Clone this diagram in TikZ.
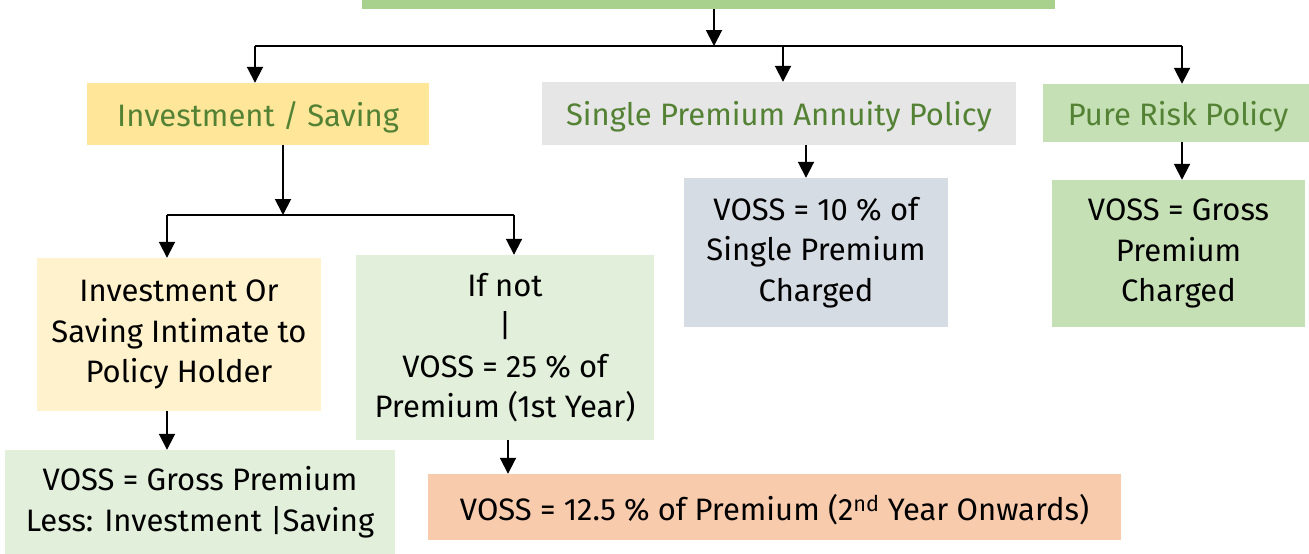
\documentclass[tikz,border=0pt]{standalone}
\usepackage{fontspec}
\setmainfont{Fira Sans}
\usepackage{tikz}
\usetikzlibrary{positioning, arrows.meta}
\definecolor{headGreen}{HTML}{A9D18E}
\definecolor{invYellow}{HTML}{FFE699}
\definecolor{annGrey}{HTML}{E7E6E6}
\definecolor{riskGreen}{HTML}{C5E0B4}
\definecolor{paleYellow}{HTML}{FFF2CC}
\definecolor{paleGreen}{HTML}{E2EFDA}
\definecolor{paleBlue}{HTML}{D6DCE4}
\definecolor{paleOrange}{HTML}{F8CBAD}
\definecolor{labelGreen}{HTML}{548235}

\begin{document}
\begin{tikzpicture}[
  x=1pt, y=-1pt,
  every node/.style={font=\fontsize{31}{40.5}\selectfont},
  box/.style={
    rectangle, inner sep=0pt, align=center,
    text=black
  },
  kind/.style={
    box, text=labelGreen, text depth=0pt
  },
  arr/.style={
    black, line width=1.9pt, -{Triangle[length=16pt,width=16pt]}
  },
  bus/.style={
    black, line width=1.9pt
  },
]
\useasboundingbox (0,0) rectangle (1309,554);
\clip (0,0) rectangle (1309,554);

% Head (cut at the top edge)
\node[box, fill=headGreen, minimum width=693pt, minimum height=49pt] (top) at (708.5,-15.5) {};

% Policy kinds
\node[kind, fill=invYellow, minimum width=342pt, minimum height=62pt] (inv) at (258,114) {Investment / Saving};
\node[kind, fill=annGrey, minimum width=474pt, minimum height=63pt] (spa) at (779,113.5) {Single Premium Annuity Policy};
\node[kind, fill=riskGreen, minimum width=270pt, minimum height=58pt] (prp) at (1178,113) {Pure Risk Policy};

% Second level
\node[box, fill=paleYellow, minimum width=284pt, minimum height=153pt] (intim) at (179,334.5) {Investment Or\\Saving Intimate to\\Policy Holder};
\node[box, fill=paleGreen, minimum width=298pt, minimum height=185pt] (ifnot) at (505,347.5) {If not\\|\\VOSS = 25 \% of\\Premium (1st Year)};
\node[box, fill=paleBlue, minimum width=264pt, minimum height=149pt] (vten) at (816,252.5) {VOSS = 10 \% of\\Single Premium\\Charged};
\node[box, fill=riskGreen, minimum width=253pt, minimum height=147pt] (vgross) at (1178.5,253.5) {VOSS = Gross\\Premium\\Charged};

% Third level
\node[box, fill=paleGreen, minimum width=390pt, minimum height=104pt] (vless) at (200,502) {VOSS = Gross Premium\\Less: Investment |Saving};
\node[box, fill=paleOrange, text depth=0pt, minimum width=693pt, minimum height=66pt] (vtwelve) at (774.5,507) {VOSS = 12.5 \% of Premium (2\textsuperscript{nd} Year Onwards)};

% Junctions
\coordinate (jtop) at (714,46);
\coordinate (busL) at (255,46);
\coordinate (jspa) at (783,46);
\coordinate (busR) at (1182,46);
\coordinate (jinv) at (283,215);
\coordinate (subL) at (167,215);
\coordinate (subR) at (514,215);

% Connectors
\draw[bus] (busL) -- (busR);
\draw[arr] (top.south -| jtop) -- (jtop);
\draw[arr] (busL) -- (inv.north -| busL);
\draw[arr] (jspa) -- (spa.north -| jspa);
\draw[arr] (busR) -- (prp.north -| busR);

\draw[bus] (subL) -- (subR);
\draw[arr] (inv.south -| jinv) -- (jinv);
\draw[arr] (subL) -- (intim.north -| subL);
\draw[arr] (subR) -- (ifnot.north -| subR);

\draw[arr] (intim.south -| subL) -- (vless.north -| subL);
\draw[arr] (ifnot.south -| 508,0) -- (vtwelve.north -| 508,0);
\draw[arr] (spa.south -| 806,0) -- (vten.north -| 806,0);
\draw[arr] (prp.south -| busR) -- (vgross.north -| busR);

\end{tikzpicture}
\end{document}
